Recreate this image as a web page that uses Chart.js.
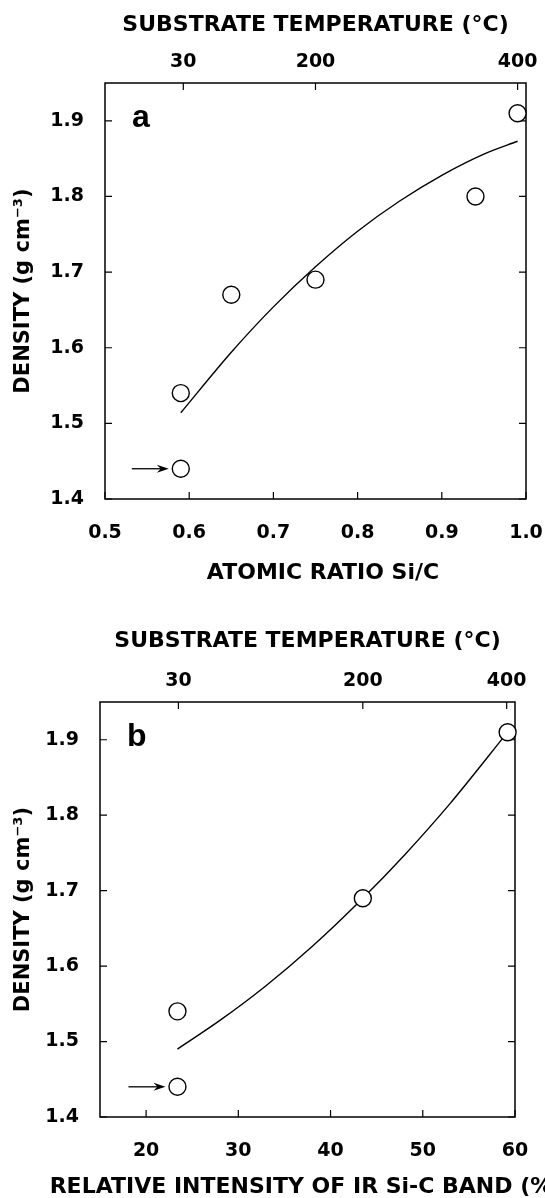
<!DOCTYPE html>
<html>
<head>
<meta charset="utf-8">
<script src="https://cdn.jsdelivr.net/npm/chart.js@4"></script>
<style>
  html, body { margin: 0; padding: 0; background: #fff; overflow: hidden; }
  canvas { position: absolute; left: 0; }
  #panelA { top: 0; }
  #panelB { top: 600px; }
</style>
</head>
<body>
<canvas id="panelA" width="545" height="600"></canvas>
<canvas id="panelB" width="545" height="620"></canvas>
<script>
// panel a: density against atomic ratio Si/C
const siC = [0.59, 0.59, 0.65, 0.75, 0.94, 0.99];
const densityA = [1.44, 1.54, 1.67, 1.69, 1.80, 1.91];
const fitSiC = [0.59, 0.65, 0.70, 0.75, 0.80, 0.85, 0.90, 0.95, 0.99];
const fitDensityA = [1.514, 1.594, 1.654, 1.707, 1.754, 1.794, 1.828, 1.856, 1.873];

// panel b: density against relative intensity of the IR Si-C band
const irBand = [23.4, 23.4, 43.5, 59.2];
const densityB = [1.44, 1.54, 1.69, 1.91];
const fitIr = [23.4, 28, 33, 38, 43.5, 48, 53, 59.2];
const fitDensityB = [1.490, 1.528, 1.574, 1.626, 1.690, 1.747, 1.816, 1.910];

// tick labels
const ratioTicks = [0.5, 0.6, 0.7, 0.8, 0.9, 1.0];
const bandTicks = [20, 30, 40, 50, 60];
const densityTicks = [1.4, 1.5, 1.6, 1.7, 1.8, 1.9];
const tempLabels = ['30', '200', '400'];
const tempAtSiC = [0.593, 0.75, 0.99];
const tempAtBand = [23.5, 43.5, 59.1];

const tickFont = { family: '"DejaVu Sans", sans-serif', weight: 'bold', size: 19 };
const titleFont = { family: '"DejaVu Sans", sans-serif', weight: 'bold', size: 22 };
const yTitleFont = { family: '"DejaVu Sans", sans-serif', weight: 'bold', size: 21 };

// box, inward ticks, panel letter and the arrow marking one point
const frame = {
  id: 'frame',
  beforeDatasetsDraw(chart, args, o) {
    const { ctx, chartArea: a, scales } = chart;
    ctx.save();
    ctx.strokeStyle = '#000';
    ctx.fillStyle = '#000';
    ctx.lineWidth = 1.5;
    ctx.strokeRect(a.left, a.top, a.right - a.left, a.bottom - a.top);
    ctx.lineWidth = 1.2;
    ctx.beginPath();
    scales.x.ticks.forEach(t => {
      const px = scales.x.getPixelForValue(t.value);
      ctx.moveTo(px, a.bottom); ctx.lineTo(px, a.bottom - 7);
    });
    scales.top.ticks.forEach(t => {
      const px = scales.top.getPixelForValue(t.value);
      ctx.moveTo(px, a.top); ctx.lineTo(px, a.top + 7);
    });
    scales.y.ticks.forEach(t => {
      const py = scales.y.getPixelForValue(t.value);
      ctx.moveTo(a.left, py); ctx.lineTo(a.left + 7, py);
      ctx.moveTo(a.right, py); ctx.lineTo(a.right - 7, py);
    });
    ctx.stroke();

    ctx.font = 'bold 32px "Liberation Sans", Arial, sans-serif';
    ctx.textAlign = 'left';
    ctx.textBaseline = 'alphabetic';
    ctx.fillText(o.letter, a.left + 27, a.top + 44);

    const p = chart.getDatasetMeta(0).data[o.arrowIndex];
    const tip = p.x - 12, tail = p.x - 49;
    ctx.lineWidth = 1.3;
    ctx.beginPath();
    ctx.moveTo(tail, p.y); ctx.lineTo(tip - 6, p.y);
    ctx.stroke();
    ctx.beginPath();
    ctx.moveTo(tip, p.y);
    ctx.lineTo(tip - 12, p.y - 4);
    ctx.lineTo(tip - 8, p.y);
    ctx.lineTo(tip - 12, p.y + 4);
    ctx.closePath();
    ctx.fill();

    // bottom axis title, drawn unsqueezed so it may run past the edge
    ctx.font = 'bold 22px "DejaVu Sans", sans-serif';
    ctx.textAlign = 'center';
    ctx.textBaseline = 'middle';
    ctx.fillText(o.xLabel, o.xLabelX, o.xLabelY);
    ctx.restore();
  }
};

function buildPanel(id, cfg) {
  const canvas = document.getElementById(id);
  const h = canvas.height;
  const pts = cfg.xs.map((x, i) => ({ x, y: cfg.ys[i] }));
  const fit = cfg.fitX.map((x, i) => ({ x, y: cfg.fitY[i] }));
  const plain = { display: false };
  const noPadX = s => { s.paddingLeft = 0; s.paddingRight = 0; };
  return new Chart(canvas, {
    type: 'scatter',
    data: {
      datasets: [
        {
          data: pts, pointRadius: 8.5, pointHoverRadius: 8.5,
          pointBackgroundColor: '#fff', pointBorderColor: '#000', pointBorderWidth: 1.4,
          showLine: false, clip: false
        },
        {
          data: fit, showLine: true, pointRadius: 0, borderColor: '#000', borderWidth: 1.4,
          cubicInterpolationMode: 'monotone', fill: false, clip: false
        }
      ]
    },
    options: {
      responsive: false,
      animation: false,
      layout: { padding: { left: 0, right: 545 - cfg.box.right, top: 0, bottom: 0 } },
      plugins: {
        legend: { display: false },
        tooltip: { enabled: false },
        frame: {
          letter: cfg.letter, arrowIndex: 0,
          xLabel: cfg.xLabel, xLabelX: cfg.xLabelX, xLabelY: cfg.xLabelY
        }
      },
      scales: {
        x: {
          type: 'linear', position: 'bottom', min: cfg.xMin, max: cfg.xMax,
          grid: plain, border: plain,
          ticks: {
            color: '#000', font: tickFont, padding: 15, autoSkip: false, maxRotation: 0,
            callback: cfg.xFmt
          },
          afterBuildTicks: s => { s.ticks = cfg.xTicks.map(v => ({ value: v })); },
          afterFit: s => { s.height = h - cfg.box.bottom; noPadX(s); }
        },
        top: {
          type: 'linear', position: 'top', min: cfg.xMin, max: cfg.xMax,
          grid: plain, border: plain,
          ticks: {
            color: '#000', font: tickFont, padding: 2, autoSkip: false, maxRotation: 0,
            callback: (v, i) => tempLabels[i]
          },
          afterBuildTicks: s => { s.ticks = cfg.tempAt.map(v => ({ value: v })); },
          afterFit: s => { s.height = cfg.box.top; noPadX(s); },
          title: {
            display: true, text: 'SUBSTRATE TEMPERATURE (°C)', color: '#000', font: titleFont,
            padding: { top: cfg.topTitlePad, bottom: 0 }
          }
        },
        y: {
          type: 'linear', position: 'left', min: 1.4, max: 1.95,
          grid: plain, border: plain,
          ticks: {
            color: '#000', font: tickFont, padding: 13, autoSkip: false,
            callback: v => v.toFixed(1)
          },
          afterBuildTicks: s => { s.ticks = densityTicks.map(v => ({ value: v })); },
          afterFit: s => { s.width = cfg.box.left; s.paddingTop = 0; s.paddingBottom = 0; },
          title: {
            display: true, text: 'DENSITY (g cm⁻³)', color: '#000', font: yTitleFont,
            padding: { top: 11, bottom: 0 }
          }
        }
      }
    },
    plugins: [frame]
  });
}

buildPanel('panelA', {
  letter: 'a',
  xs: siC, ys: densityA, fitX: fitSiC, fitY: fitDensityA,
  xMin: 0.5, xMax: 1.0, xTicks: ratioTicks, xFmt: v => v.toFixed(1),
  tempAt: tempAtSiC,
  xLabel: 'ATOMIC RATIO Si/C', xLabelX: 323, xLabelY: 573,
  box: { left: 105, right: 526, top: 83, bottom: 499 },
  topTitlePad: 12
});

buildPanel('panelB', {
  letter: 'b',
  xs: irBand, ys: densityB, fitX: fitIr, fitY: fitDensityB,
  xMin: 15, xMax: 60, xTicks: bandTicks, xFmt: v => String(v),
  tempAt: tempAtBand,
  xLabel: 'RELATIVE INTENSITY OF IR Si-C BAND (%)', xLabelX: 306, xLabelY: 587,
  box: { left: 100, right: 515, top: 102, bottom: 517 },
  topTitlePad: 28
});
</script>
</body>
</html>
